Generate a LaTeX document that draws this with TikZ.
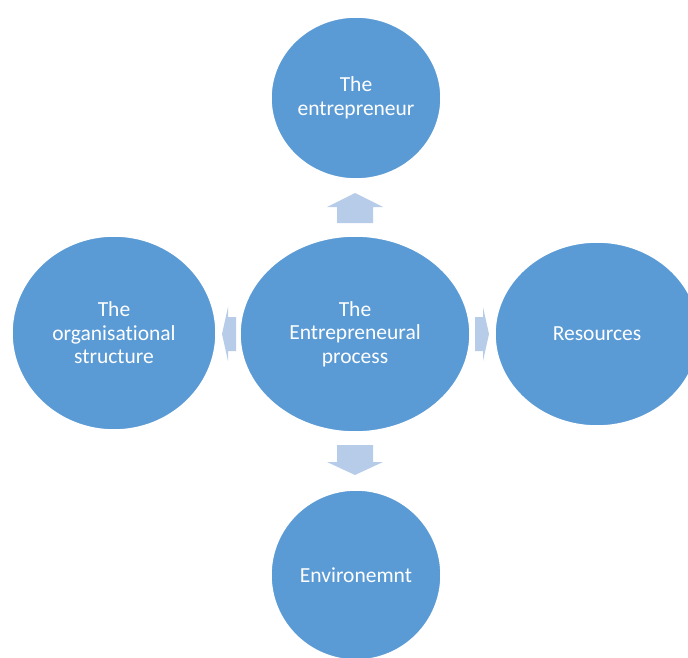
\documentclass[tikz,border=0pt]{standalone}
\usepackage{fontspec}
\setmainfont{Carlito}[Ligatures=NoCommon]
\usetikzlibrary{shapes.geometric}
\definecolor{bubblefill}{HTML}{5B9BD5}
\definecolor{pointerfill}{HTML}{B7CCE9}

\begin{document}
\begin{tikzpicture}[
every node/.style={font=\fontsize{21.5}{23.5}\selectfont, text=white, align=center},
bubble/.style={ellipse, fill=bubblefill, draw=white, line width=1.5pt, inner sep=0pt},
pointer/.style={fill=pointerfill},
x=1pt,
y=-1pt
]
\useasboundingbox (0,0) rectangle (688,658);

% block arrows, drawn first so the bubbles sit on top
\fill[pointer] (355,193) -- (383,207) -- (373,207) -- (373,223) -- (337,223) -- (337,207) -- (327,207) -- cycle;
\fill[pointer] (337,445) -- (373,445) -- (373,462) -- (383,462) -- (355,475) -- (327,462) -- (337,462) -- cycle;
\fill[pointer] (222,334) -- (228,307) -- (228,317) -- (236,317) -- (236,351) -- (228,351) -- (228,361) -- cycle;
\fill[pointer] (475,317) -- (483,317) -- (483,307) -- (489,334) -- (483,361) -- (483,351) -- (475,351) -- cycle;

\node[bubble, minimum width=230, minimum height=196] (proc) at (355,334) {The\\Entrepreneural\\process};
\node[bubble, minimum width=170, minimum height=162] (entr) at (356,98) {The\\entrepreneur};
\node[bubble, minimum width=204, minimum height=194] (org) at (114,333) {The\\organisational\\structure};
\node[bubble, minimum width=204, minimum height=184] (res) at (597,334) {Resources};
\node[bubble, minimum width=170, minimum height=170] (env) at (356,575) {Environemnt};
\end{tikzpicture}
\end{document}
